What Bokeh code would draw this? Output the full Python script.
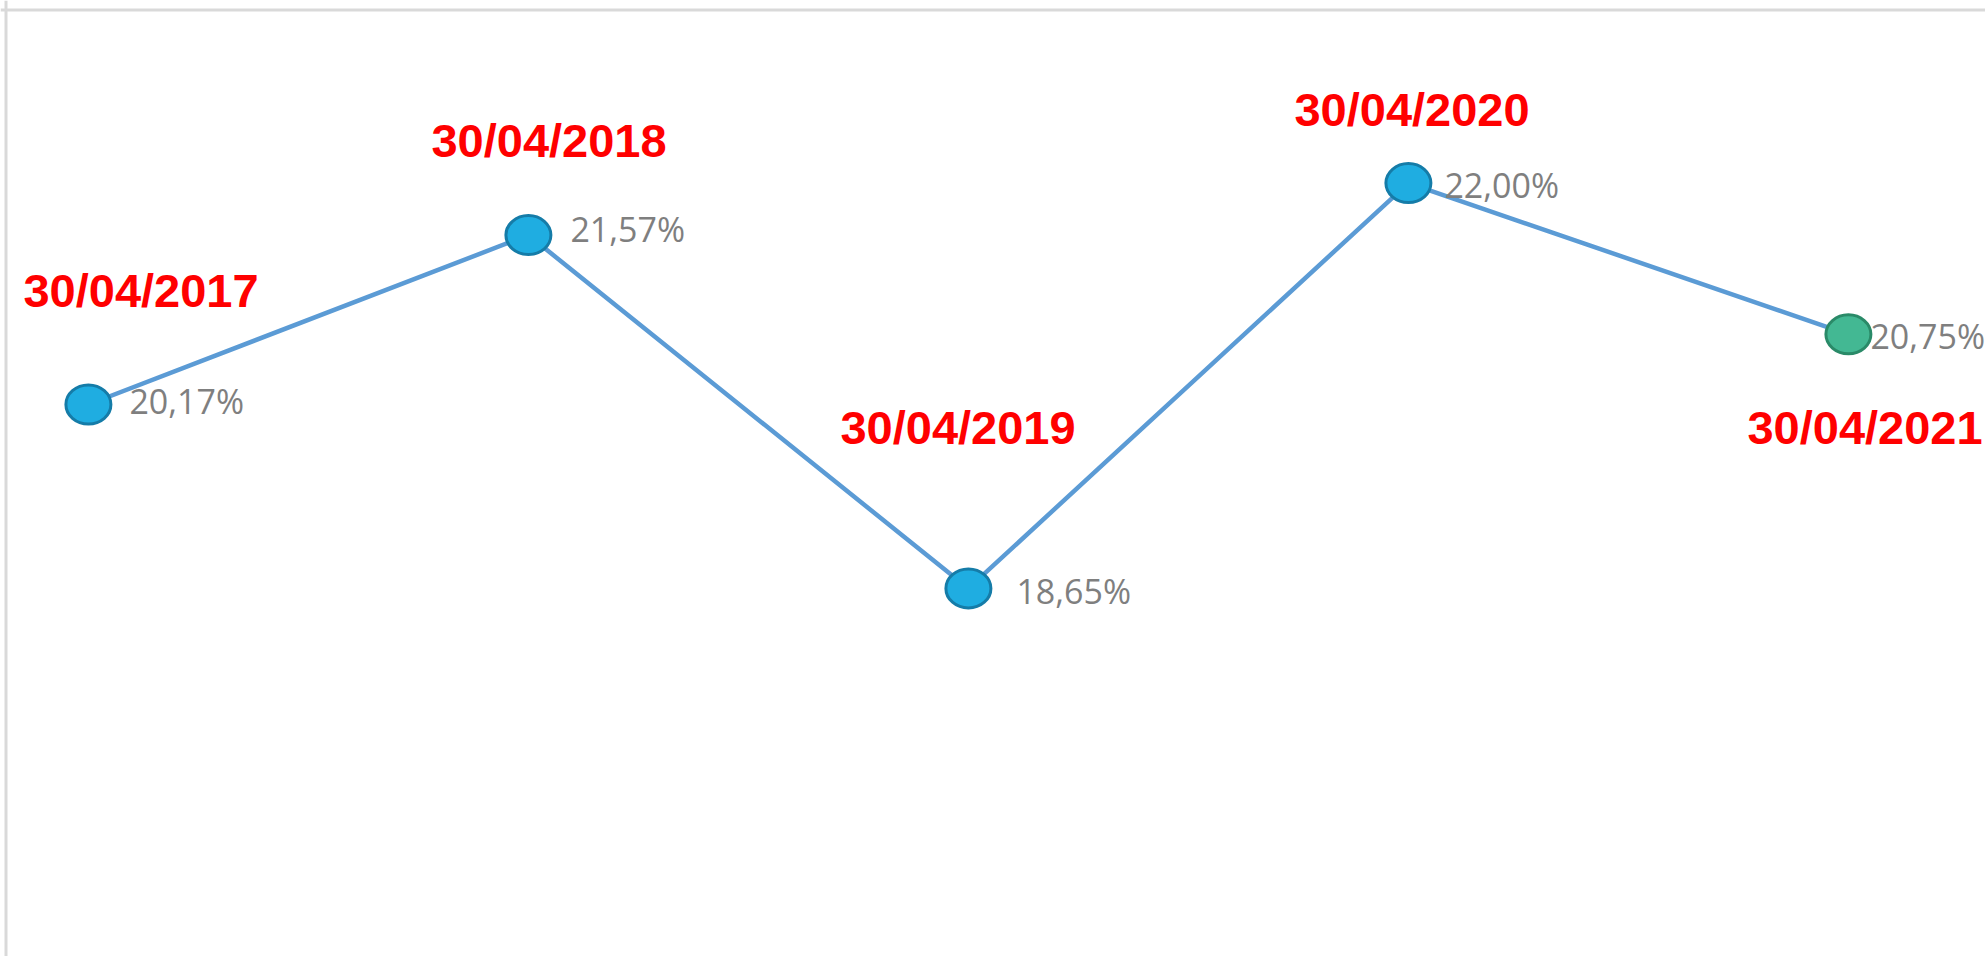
from bokeh.plotting import figure
from bokeh.models import ColumnDataSource, Range1d, Span
from bokeh.core.properties import value
from bokeh.embed import file_html
from bokeh.resources import INLINE

# ---- data ----
dates = ["30/04/2017", "30/04/2018", "30/04/2019", "30/04/2020", "30/04/2021"]
rates = [20.17, 21.57, 18.65, 22.00, 20.75]
rate_labels = [f"{v:.2f}%".replace(".", ",") for v in rates]

# ---- styles / layout (not data) ----
point_fill = ["#1FADE1", "#1FADE1", "#1FADE1", "#1FADE1", "#43B893"]
point_line = ["#157CA8", "#157CA8", "#157CA8", "#157CA8", "#2A8A68"]
val_dx = [41, 42, 48, 36, 22]
val_dy = [-4, -6, 3, 2, 2]           # label offsets from point centre (px)
date_dx = [-65, -97, -128, -114, -101]
date_dy = [-114, -95, -161, -74, 93]

W, H = 1985, 956
# axis placement (pixels of category 0, pixels per category, pixels per % unit)
X0, DX = 87.9, 440.0
YREF, VREF, PPU = 348.6, 20.628, 121.0
x_start, x_end = -X0 / DX, (W - X0) / DX
y_end, y_start = VREF + YREF / PPU, VREF - (H - YREF) / PPU

idx = list(range(len(dates)))
src = ColumnDataSource(dict(
    x=idx, y=rates, date=dates, lab=rate_labels,
    fill=point_fill, line=point_line,
    vdx=val_dx, vdy=val_dy, ddx=date_dx, ddy=date_dy,
))

p = figure(width=W, height=H, output_backend="svg", toolbar_location=None,
           x_range=Range1d(x_start, x_end), y_range=Range1d(y_start, y_end),
           min_border=0, background_fill_color="white", border_fill_color="white")
p.axis.visible = False
p.grid.visible = False
p.outline_line_color = None

p.line("x", "y", source=src, line_color="#5B9BD5", line_width=4.5)
p.ellipse("x", "y", width=45, height=39, width_units="screen", height_units="screen",
          source=src, fill_color="fill", line_color="line", line_width=3)

p.text("x", "y", text="lab", source=src, x_offset="vdx", y_offset="vdy",
       text_font=value("Open Sans"), text_font_size="34px", text_color="#7F7F7F",
       text_align="left", text_baseline="alphabetic")
p.text("x", "y", text="date", source=src, x_offset="ddx", y_offset="ddy",
       text_font=value("Liberation Sans"), text_font_style="bold",
       text_font_size="47px", text_color="#FF0000",
       text_align="left", text_baseline="alphabetic")

# chart-area border (left and top edges visible in the reference)
p.add_layout(Span(location=x_start + 5.5 / DX, dimension="height",
                  line_color="#D9D9D9", line_width=3))
p.add_layout(Span(location=y_end - 9.5 / PPU, dimension="width",
                  line_color="#D9D9D9", line_width=3))

open("out.html", "w").write(file_html(p, INLINE))
